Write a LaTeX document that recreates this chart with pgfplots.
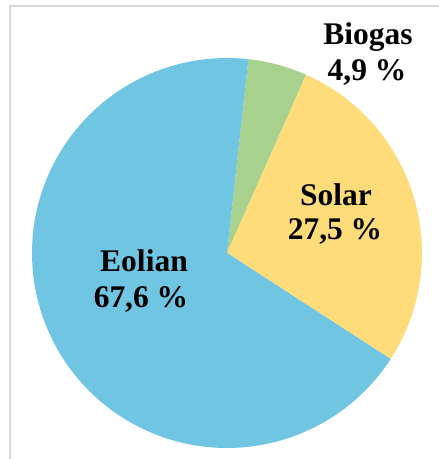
\documentclass[border=0pt]{standalone}
\usepackage{pgfplots}
\pgfplotsset{compat=1.18}
\usepackage{fontspec}
\setmainfont{Liberation Serif}
\definecolor{cEol}{HTML}{70C5E2}
\definecolor{cBio}{HTML}{A9D18E}
\definecolor{cSol}{HTML}{FFDC7A}
\definecolor{cFrame}{HTML}{D9D9D9}
\begin{document}
\begin{tikzpicture}
% shares in percent
\pgfmathsetmacro{\pBio}{4.9}
\pgfmathsetmacro{\pSol}{27.5}
\pgfmathsetmacro{\pEol}{67.6}
\pgfmathsetmacro{\aA}{6.3}
\pgfmathsetmacro{\aB}{\aA+3.6*\pBio}
\pgfmathsetmacro{\aC}{\aB+3.6*\pSol}
\pgfmathsetmacro{\aD}{\aC+3.6*\pEol}
\begin{axis}[
  width=439pt, height=459pt, scale only axis,
  xmin=0, xmax=439, ymin=0, ymax=459, y dir=reverse,
  hide axis, clip=true,
]
\addplot[draw=none, fill=cBio, domain=\aA:\aB, samples=30]
  ({227+195*sin(x)},{253-195*cos(x)}) -- (axis cs:227,253) -- cycle;
\addplot[draw=none, fill=cSol, domain=\aB:\aC, samples=90]
  ({227+195*sin(x)},{253-195*cos(x)}) -- (axis cs:227,253) -- cycle;
\addplot[draw=none, fill=cEol, domain=\aC:\aD, samples=200]
  ({227+195*sin(x)},{253-195*cos(x)}) -- (axis cs:227,253) -- cycle;
\addplot[cFrame, line width=2pt] coordinates {(10,459) (10,6) (439,6)};
\begin{scope}[font=\fontsize{31.5}{37}\selectfont\bfseries]
\node[anchor=base] at (axis cs:368,44) {Biogas};
\node[anchor=base] at (axis cs:367,80) {4,9 \%};
\node[anchor=base] at (axis cs:336,205) {Solar};
\node[anchor=base] at (axis cs:335,239) {27,5 \%};
\node[anchor=base] at (axis cs:144,271) {Eolian};
\node[anchor=base] at (axis cs:141,307) {67,6 \%};
\end{scope}
\end{axis}
\pgfresetboundingbox
\useasboundingbox (current axis.south west) rectangle (current axis.north east);
\end{tikzpicture}
\end{document}
